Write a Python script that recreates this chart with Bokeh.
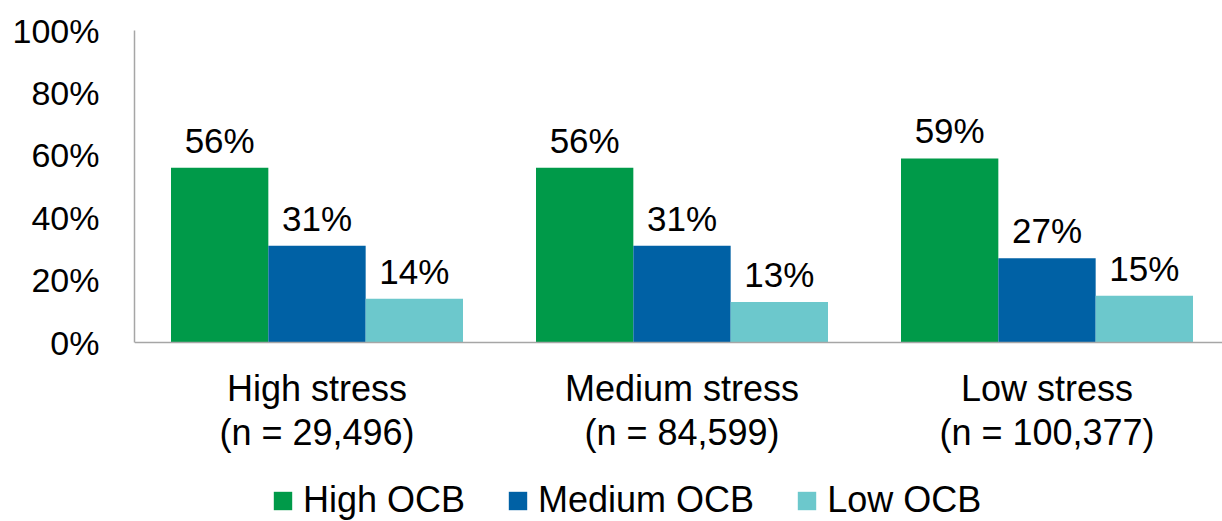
from bokeh.plotting import figure
from bokeh.models import (ColumnDataSource, Range1d, FixedTicker, Legend, LegendItem, Span)
from bokeh.core.properties import value
from bokeh.embed import file_html
from bokeh.resources import INLINE

# Stress groups and their sample sizes
categories = ["High stress", "Medium stress", "Low stress"]
sample_sizes = ["29,496", "84,599", "100,377"]

# Share of respondents (%) by OCB level within each stress group
series_names = ["High OCB", "Medium OCB", "Low OCB"]
high_ocb = [56, 56, 59]
medium_ocb = [31, 31, 27]
low_ocb = [14, 13, 15]

y_ticks = [0, 20, 40, 60, 80, 100]

colors = ["#009A49", "#0061A5", "#6CC8CC"]
FONT = "Liberation Sans"
AXIS_GREY = "#A6A6A6"

# 312 px of frame per 100 %, with room under the baseline for labels and legend
PX_PER_UNIT = 3.12
p = figure(frame_width=1088, frame_height=491, output_backend="svg", toolbar_location=None,
           x_range=Range1d(0, 1088 / 365), y_range=Range1d(-179 / PX_PER_UNIT, 100),
           min_border_left=134, min_border_right=0, min_border_top=30,
           min_border_bottom=0)
p.outline_line_color = None
p.xgrid.visible = False
p.ygrid.visible = False
p.xaxis.visible = False
p.background_fill_color = "white"
p.border_fill_color = "white"

bar_w = 0.8 / 3
offsets = [-bar_w, 0.0, bar_w]
renderers = []
for vals, off, col in zip([high_ocb, medium_ocb, low_ocb], offsets, colors):
    xs = [i + 0.5 + off for i in range(len(categories))]
    src = ColumnDataSource(dict(x=xs, top=vals, lab=[f"{v}%" for v in vals]))
    r = p.vbar(x="x", top="top", width=bar_w, bottom=0, source=src,
               fill_color=col, line_color=None)
    renderers.append(r)
    p.text(x="x", y="top", text="lab", source=src, text_align="center",
           text_baseline="bottom", y_offset=-8, text_font=value(FONT),
           text_font_size="35px", text_color="#000000")

# category baseline
p.add_layout(Span(location=0, dimension="width", line_color=AXIS_GREY, line_width=1.5))

# two-line category labels under each group
centers = [i + 0.5 for i in range(len(categories))]
cat_src = ColumnDataSource(dict(x=centers, y=[0] * len(centers), name=categories,
                                n=[f"(n = {n})" for n in sample_sizes]))
p.text(x="x", y="y", text="name", source=cat_src, text_align="center",
       text_baseline="middle", y_offset=46, text_font=value(FONT),
       text_font_size="36px", text_color="#000000")
p.text(x="x", y="y", text="n", source=cat_src, text_align="center",
       text_baseline="middle", y_offset=90, text_font=value(FONT),
       text_font_size="36px", text_color="#000000")

# y axis, drawn only over 0-100 %
ya = p.yaxis[0]
ya.bounds = (0, 100)
ya.ticker = FixedTicker(ticks=y_ticks)
ya.major_label_overrides = {t: f"{t}%" for t in y_ticks}
ya.major_label_text_font = FONT
ya.major_label_text_font_size = "34px"
ya.major_label_text_color = "#000000"
ya.major_tick_in = 0
ya.major_tick_out = 0
ya.minor_tick_line_color = None
ya.axis_line_color = AXIS_GREY
ya.axis_line_width = 1.5
ya.major_label_standoff = 35

legend = Legend(items=[LegendItem(label=n, renderers=[r]) for n, r in zip(series_names, renderers)],
                orientation="horizontal", location=(137, 0),
                glyph_width=23, glyph_height=23, label_standoff=9, spacing=41,
                padding=0, margin=0, border_line_color=None,
                background_fill_alpha=0,
                label_text_font=FONT, label_text_font_size="36px",
                label_text_color="#000000")
p.add_layout(legend)

open("out.html", "w").write(file_html(p, INLINE))
